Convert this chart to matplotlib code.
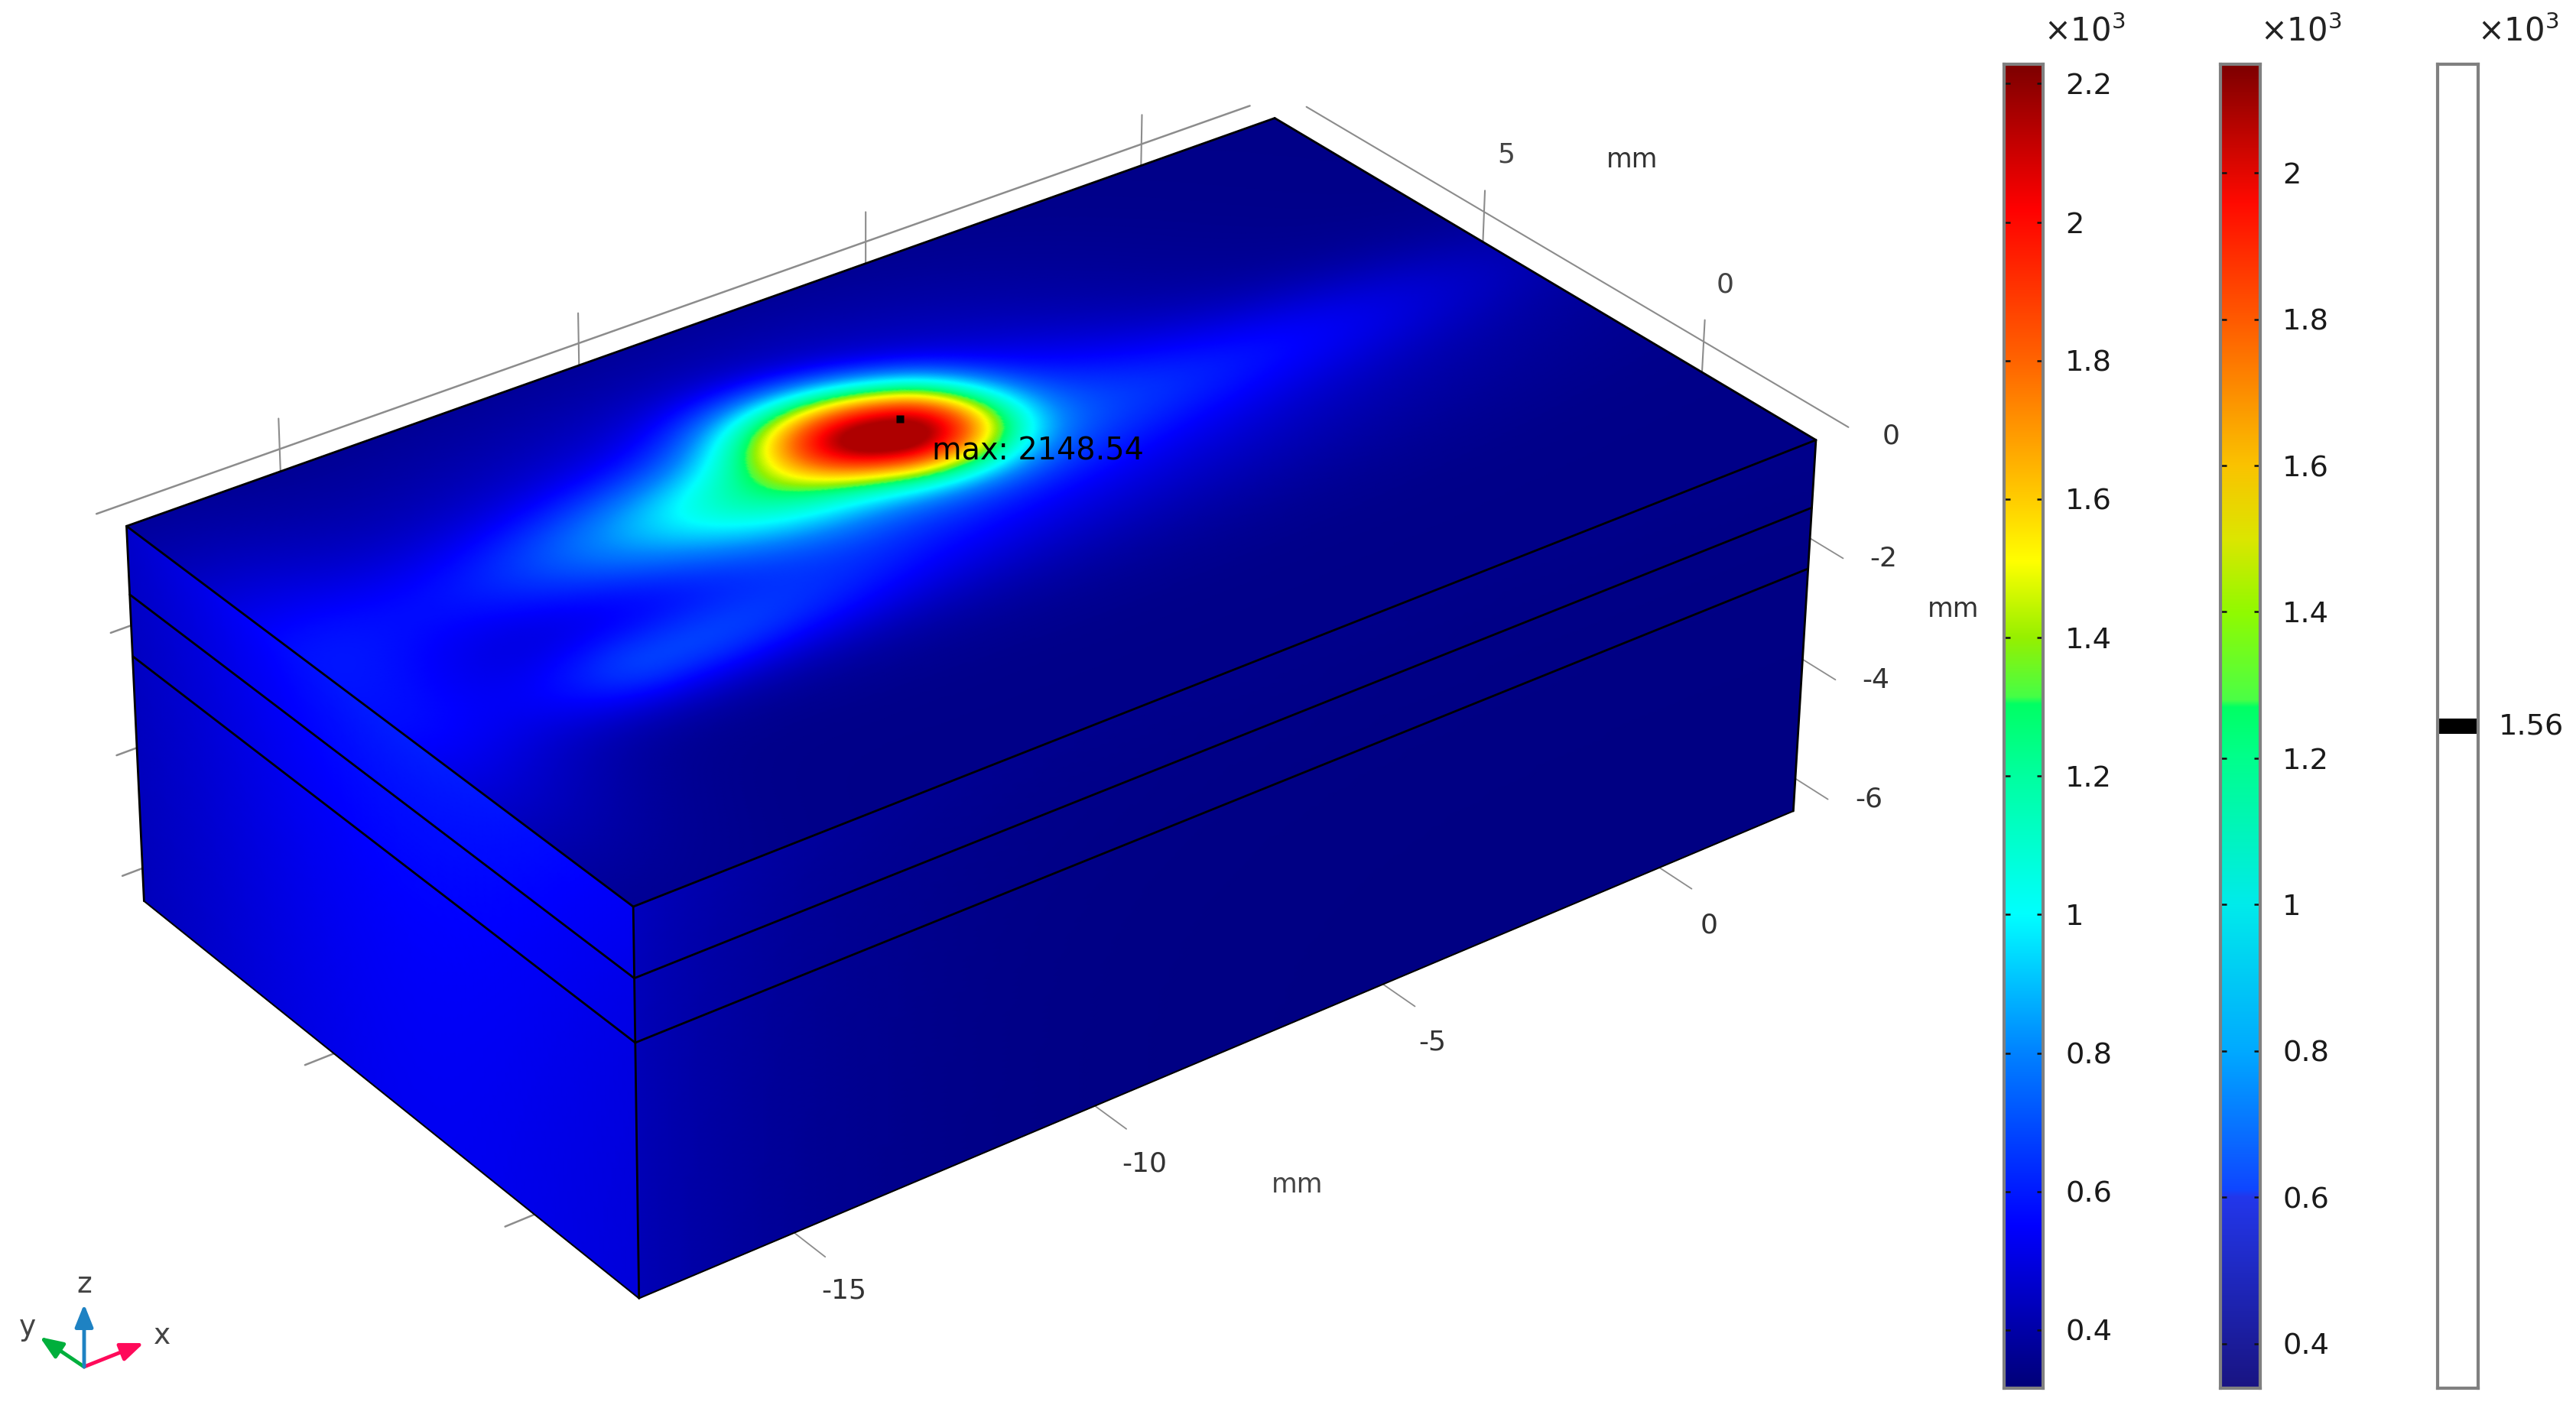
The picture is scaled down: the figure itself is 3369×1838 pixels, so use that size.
import numpy as np
import matplotlib
matplotlib.use('Agg')
import matplotlib.pyplot as plt
from matplotlib.colors import LinearSegmentedColormap, Normalize

W, H = 3369, 1838

# box size in mm
x_min, x_max = -17.5, 2.5
y_min, y_max = -2.5, 10.0
z_layers = [-0.4, -1.5, -2.5, -6.55]
z_top, z_bot = z_layers[0], z_layers[-1]

# axis ticks
x_ticks = [-15, -10, -5, 0]
y_ticks = [0, 5]
z_ticks = [0, -2, -4, -6]

# temperature field on top face
field_base = 0.345
max_value = 2148.54
# melt spot: amp, x0, y0, along behind, along front, across, angle in degrees
spot = (1.30, -7.5, 5.7, 1.55, 1.1, 0.95, -34)
# tracks and glow: amp, x0, y0, sx_behind, sx_front, sy
top_blobs = [
    (0.36, -10.5, 5.6, 3.0, 3.0, 0.95),    # tail behind spot
    (0.20, -9.5, 5.3, 1.2, 1.5, 0.90),     # fills the neck next to spot
    (0.17, -9.5, 4.7, 2.0, 4.5, 1.30),     # under the tail
    (0.15, -8.5, 6.3, 6.0, 3.5, 2.10),     # glow round spot
    (0.13, -2.0, 4.4, 5.0, 3.5, 0.90),     # thin ridge going to back
    (0.24, -13.8, 2.5, 1.2, 2.5, 0.75),    # lower blob
    (0.10, -8.0, 2.8, 5.0, 6.0, 1.30),     # lower track
    (0.19, -17.5, 3.8, 1.4, 1.4, 3.00),    # band at the left edge
]

# colorbars: (bottom, top), value, color
bar1_range = (0.316, 2.228)
bar1_ticks = [0.4, 0.6, 0.8, 1, 1.2, 1.4, 1.6, 1.8, 2, 2.2]
bar1_stops = [0.316, 0.55, 0.8, 1.0, 1.2, 1.304, 1.315, 1.4, 1.51, 1.6, 1.8, 2.02, 2.228]
bar1_colors = ['#000078', '#0000ff', '#0082ff', '#00ffff', '#00ffa0', '#00ff64', '#46ff46',
               '#96f000', '#ffff00', '#ffcd00', '#ff6400', '#ff0000', '#7d0000']

bar2_range = (0.339, 2.1485)
bar2_ticks = [0.4, 0.6, 0.8, 1, 1.2, 1.4, 1.6, 1.8, 2]
bar2_stops = [0.339, 0.6, 0.61, 0.8, 1.0, 1.2, 1.27, 1.28, 1.4, 1.5, 1.6, 1.8, 1.96, 2.1485]
bar2_colors = ['#191482', '#2337eb', '#0f46ff', '#00aaff', '#00ebeb', '#00ff8c', '#00ff64', '#4bff46',
               '#91fa00', '#dce600', '#fac300', '#ff5a00', '#ff0a00', '#7d0000']

bar3_range = (1.06, 2.06)
iso_value = 1.56


def make_cmap(stops, colors, rng):
    pos = (np.array(stops) - rng[0]) / (rng[1] - rng[0])
    return LinearSegmentedColormap.from_list('c', list(zip(pos, colors)), N=1024)


cmap1 = make_cmap(bar1_stops, bar1_colors, bar1_range)
cmap2 = make_cmap(bar2_stops, bar2_colors, bar2_range)
norm1 = Normalize(*bar1_range)

# camera: fit a projection from mm to picture pixels
cal_mm = [(x_min, y_max, z_top), (x_max, y_max, z_top), (x_max, y_min, z_top), (x_min, y_min, z_top),
          (x_min, y_min, z_bot), (x_min, y_max, z_bot), (x_max, y_min, z_bot),
          (-15, y_min, z_bot), (-10, y_min, z_bot), (-5, y_min, z_bot), (0, y_min, z_bot),
          (x_min, 0, z_bot), (x_min, 5, z_bot), (x_max, 0, z_top), (x_max, 5, z_top),
          (-15, y_max, z_top), (-10, y_max, z_top), (-5, y_max, z_top), (0, y_max, z_top),
          (x_max, y_min, -2), (x_max, y_min, -4), (x_max, y_min, -6)]
cal_px = [(161, 691), (1666, 157), (2372, 576), (825, 1187),
          (836, 1693), (188, 1178), (2348, 1060),
          (1042, 1611), (1432, 1448), (1804, 1291), (2164, 1139),
          (705, 1594), (432, 1377), (2230, 490), (1935, 314),
          (371, 615), (760, 477), (1134, 343), (1493, 217),
          (2369, 702), (2359, 859), (2351, 1017)]
rows = []
for (a, b, c), (u, v) in zip(cal_mm, cal_px):
    u, v = u / 1000, v / 1000
    rows.append([a, b, c, 1, 0, 0, 0, 0, -u * a, -u * b, -u * c, -u])
    rows.append([0, 0, 0, 0, a, b, c, 1, -v * a, -v * b, -v * c, -v])
cam = np.linalg.svd(np.array(rows))[2][-1].reshape(3, 4)


def project(x, y, z):
    x, y, z = np.broadcast_arrays(np.asarray(x, float), np.asarray(y, float), np.asarray(z, float))
    w = cam[2, 0] * x + cam[2, 1] * y + cam[2, 2] * z + cam[2, 3]
    u = (cam[0, 0] * x + cam[0, 1] * y + cam[0, 2] * z + cam[0, 3]) / w
    v = (cam[1, 0] * x + cam[1, 1] * y + cam[1, 2] * z + cam[1, 3]) / w
    return u * 1000, v * 1000


def top_field(x, y):
    t = np.full(x.shape, field_base)
    for amp, x0, y0, sb, sf, sy in top_blobs:
        sx = np.where(x < x0, sb, sf)
        t = t + amp * np.exp(-0.5 * ((x - x0) / sx) ** 2 - 0.5 * ((y - y0) / sy) ** 2)
    amp, x0, y0, sb, sf, sy, ang = spot
    c, s = np.cos(np.radians(ang)), np.sin(np.radians(ang))
    along = (x - x0) * c + (y - y0) * s
    across = -(x - x0) * s + (y - y0) * c
    sa = np.where(along < 0, sb, sf)
    t = t + amp * np.exp(-(0.5 * (along / sa) ** 2 + 0.5 * (across / sy) ** 2) ** 1.2)
    return np.minimum(t, max_value / 1000)


def left_field(y, z):
    return 0.38 + 0.22 * np.exp(-((y - 3.0) / 7.0) ** 2) * (0.6 + 0.4 * np.exp((z + 0.4) / 2.5)) \
        + 0.03 * np.exp(-(y - y_min) / 4.0)


def right_field(x, z):
    return 0.335 + 0.09 * np.exp(-(x - x_min) / 2.5) + 0.015 * np.exp((z + 0.4) / 1.5)


fig = plt.figure(figsize=(W / 100, H / 100), dpi=100)
ax = fig.add_axes([0, 0, 1, 1])
ax.set_xlim(0, W)
ax.set_ylim(H, 0)
ax.axis('off')

# the three visible faces
gx, gy = np.meshgrid(np.linspace(x_min, x_max, 500), np.linspace(y_min, y_max, 320))
px, py = project(gx, gy, z_top)
ax.pcolormesh(px, py, top_field(gx, gy), shading='gouraud', cmap=cmap1, norm=norm1, zorder=2)

gy2, gz2 = np.meshgrid(np.linspace(y_min, y_max, 120), np.linspace(z_bot, z_top, 60))
px, py = project(x_min, gy2, gz2)
ax.pcolormesh(px, py, left_field(gy2, gz2), shading='gouraud', cmap=cmap1, norm=norm1, zorder=2)

gx3, gz3 = np.meshgrid(np.linspace(x_min, x_max, 120), np.linspace(z_bot, z_top, 60))
px, py = project(gx3, y_min, gz3)
ax.pcolormesh(px, py, right_field(gx3, gz3), shading='gouraud', cmap=cmap1, norm=norm1, zorder=2)


def edge(p0, p1, color='black', lw=2.0, zorder=3):
    u, v = project([p0[0], p1[0]], [p0[1], p1[1]], [p0[2], p1[2]])
    ax.plot(u, v, color=color, lw=lw, zorder=zorder, solid_capstyle='round')


# box edges and layer lines
for z in z_layers:
    if z == z_bot:
        continue
    edge((x_min, y_max, z), (x_min, y_min, z))
    edge((x_min, y_min, z), (x_max, y_min, z))
edge((x_min, y_max, z_top), (x_max, y_max, z_top))
edge((x_max, y_max, z_top), (x_max, y_min, z_top))
edge((x_min, y_max, z_top), (x_min, y_max, z_bot))
edge((x_min, y_min, z_top), (x_min, y_min, z_bot))
edge((x_max, y_min, z_top), (x_max, y_min, z_bot))
edge((x_min, y_max, z_bot), (x_min, y_min, z_bot), lw=1.5)
edge((x_min, y_min, z_bot), (x_max, y_min, z_bot), lw=1.5)

# gray axis frame and ticks
axis_gray = '#8c8c8c'
edge((x_min - 0.15, y_max + 0.55, z_top), (x_max - 0.05, y_max + 0.55, z_top), axis_gray, 1.8, 1)
edge((x_max + 0.6, y_max, z_top), (x_max + 0.6, y_min, z_top), axis_gray, 1.5, 1)
for t in x_ticks:
    edge((t, y_min, z_bot), (t, y_min - 0.72, z_bot), axis_gray, 1.3, 1)
    edge((t, y_max, z_top), (t, y_max, z_top + 0.85), axis_gray, 1.5, 1)
    u, v = project(t, y_min, z_bot)
    ax.text(u + 65, v + 76, str(t), color='#333333', fontsize=26, ha='center', va='center')
for t in y_ticks:
    edge((x_min, t, z_bot), (x_min - 0.47, t, z_bot), axis_gray, 1.8, 1)
    edge((x_max, t, z_top), (x_max, t, z_top + 0.85), axis_gray, 1.5, 1)
    u, v = project(x_max, t, z_top)
    ax.text(u + 30, v - 114, str(t), color='#444444', fontsize=26, ha='center', va='center')
for t in z_ticks:
    if t < z_top:
        edge((x_max, y_min, t), (x_max, y_min - 0.72, t), axis_gray, 1.3, 1)
        edge((x_min, y_max, t), (x_min - 0.33, y_max, t), axis_gray, 1.8, 1)
    u, v = project(x_max, y_min, t)
    ax.text(u + 96, v + 27, str(t), color='#333333', fontsize=26, ha='center', va='center')

ax.text(2135, 209, 'mm', color='#333333', fontsize=25, ha='center', va='center')
ax.text(2555, 797, 'mm', color='#333333', fontsize=25, ha='center', va='center')
ax.text(1697, 1550, 'mm', color='#444444', fontsize=25, ha='center', va='center')

# max marker
u, v = project(-7.3, 5.9, z_top)
ax.plot([u], [v], marker='s', ms=7, color='black', mec='none', zorder=5)
ax.text(1219, 602, 'max: %.2f' % max_value, color='black', fontsize=28.6, ha='left', va='baseline', zorder=5)

# xyz triad
org = (110, 1788)
for tip, col, lab, lab_xy in [((188, 1757), '#ff0a5a', 'x', (212, 1748)),
                              ((52, 1749), '#00af3c', 'y', (36, 1737)),
                              ((110, 1706), '#1e82c3', 'z', (110, 1681))]:
    ax.annotate('', xy=tip, xytext=org, zorder=6,
                arrowprops=dict(arrowstyle='-|>,head_length=1.0,head_width=0.4', color=col, lw=3.5,
                                shrinkA=0, shrinkB=0, mutation_scale=18))
    ax.text(lab_xy[0], lab_xy[1], lab, color='#444444', fontsize=27, ha='center', va='center')


def bar_axes(x0, x1, rng):
    y0, y1 = 84, 1816
    b = fig.add_axes([x0 / W, 1 - y1 / H, (x1 - x0) / W, (y1 - y0) / H])
    b.set_xlim(0, 1)
    b.set_ylim(*rng)
    b.set_xticks([])
    for s in b.spines.values():
        s.set_color('#808080')
        s.set_linewidth(3)
    return b


def bar_label(x, text):
    fig.text(x / W, 1 - 54 / H, text, fontsize=30, color='#222222', ha='left', va='baseline')


grad = np.linspace(0, 1, 1024).reshape(-1, 1)
for x0, x1, rng, cm, ticks in [(2621, 2672, bar1_range, cmap1, bar1_ticks),
                               (2904, 2956, bar2_range, cmap2, bar2_ticks)]:
    b = bar_axes(x0, x1, rng)
    b.imshow(grad, aspect='auto', origin='lower', extent=[0, 1, rng[0], rng[1]], cmap=cm)
    b.set_yticks(ticks)
    b.set_yticklabels([str(t) for t in ticks])
    b.tick_params(axis='y', direction='in', left=True, right=True, labelleft=False, labelright=True,
                  length=6, width=1.8, color='#111111', labelsize=27.6, labelcolor='#1a1a1a', pad=21)
    bar_label(x0 + 52, r'$\times\mathregular{10^{3}}$')

b3 = bar_axes(3188, 3241, bar3_range)
b3.set_yticks([])
b3.axhline(iso_value, color='black', lw=14.4, solid_capstyle='butt')
fig.text(3268 / W, 1 - 951 / H, '%.2f' % iso_value, fontsize=27.6, color='#1a1a1a', ha='left', va='center')
bar_label(3240, r'$\times\mathregular{10^{3}}$')

fig.savefig('out.png', dpi=100, facecolor='white')
